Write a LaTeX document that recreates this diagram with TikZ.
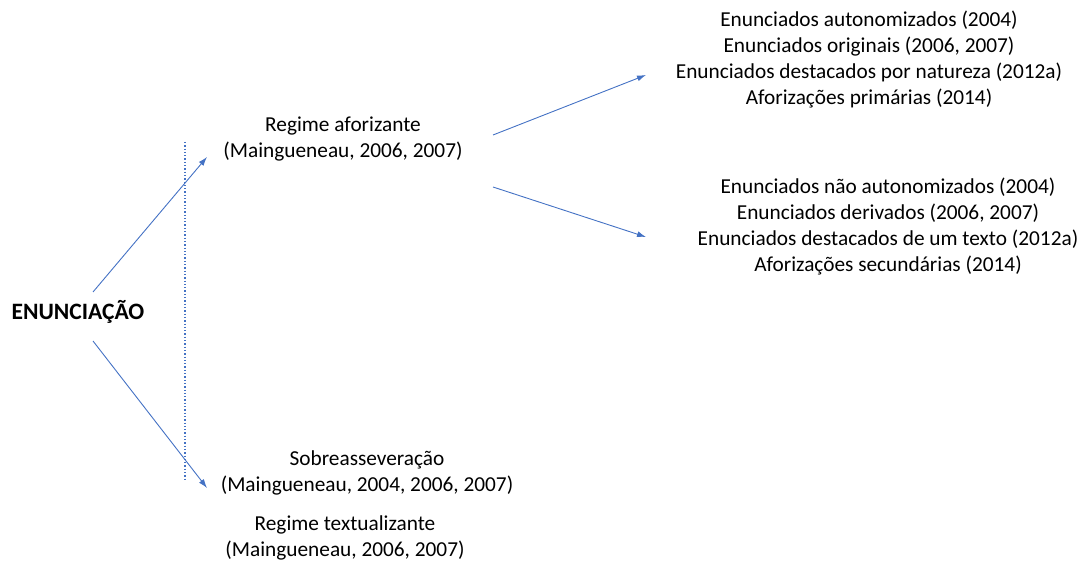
\documentclass[tikz,border=0pt]{standalone}
\usepackage{fontspec}
\setmainfont{Carlito}
\usetikzlibrary{arrows.meta}
\definecolor{arrowblue}{HTML}{4472C4}
\tikzset{
  txt/.style={align=center, inner sep=0pt, font=\fontsize{21.3}{26}\selectfont},
  conn/.style={draw=arrowblue, line width=0.9pt, -{Latex[length=9pt,width=6pt]}},
  divider/.style={draw=arrowblue, line width=1.3pt, dotted}
}
\begin{document}
\begin{tikzpicture}[x=1pt,y=-1pt]
\useasboundingbox (0,0) rectangle (1078,561);
\node[txt, font=\fontsize{23.5}{28}\selectfont\bfseries] (enun) at (78,312) {ENUNCIAÇÃO};
\node[txt] (afor) at (343,139) {Regime aforizante\\(Maingueneau, 2006, 2007)};
\node[txt] (sobre) at (367,473) {Sobreasseveração\\(Maingueneau, 2004, 2006, 2007)};
\node[txt] (textu) at (345,538) {Regime textualizante\\(Maingueneau, 2006, 2007)};
\node[txt] (prim) at (869,60) {Enunciados autonomizados (2004)\\Enunciados originais (2006, 2007)\\Enunciados destacados por natureza (2012a)\\Aforizações primárias (2014)};
\node[txt] (sec) at (888,226) {Enunciados não autonomizados (2004)\\Enunciados derivados (2006, 2007)\\Enunciados destacados de um texto (2012a)\\Aforizações secundárias (2014)};
\coordinate (e1) at (93,292);
\coordinate (e2) at (93,341);
\coordinate (a1) at (207,157);
\coordinate (s1) at (207,488);
\coordinate (r1) at (493,135);
\coordinate (r2) at (493,187);
\coordinate (p1) at (646,75);
\coordinate (q1) at (646,237);
\coordinate (dtop) at (185,142);
\coordinate (dbot) at (185,480);
\draw[divider] (dtop) -- (dbot);
\draw[conn] (e1) -- (a1);
\draw[conn] (e2) -- (s1);
\draw[conn] (r1) -- (p1);
\draw[conn] (r2) -- (q1);
\end{tikzpicture}
\end{document}
